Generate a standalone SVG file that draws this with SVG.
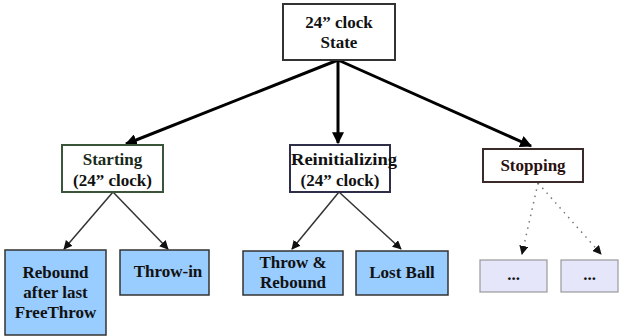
<svg xmlns="http://www.w3.org/2000/svg" width="619" height="336" viewBox="0 0 619 336">
<style>
.t{font-family:"Liberation Serif","Times New Roman",serif;font-weight:bold;font-size:17px;text-anchor:middle;fill:#111}
.wb{fill:#fff;stroke-width:2}
.bb{fill:#99ccff;stroke:#333;stroke-width:1.5}
.lb{fill:#e6e6fa;stroke:#999;stroke-width:1.2}
.thick{stroke:#000;stroke-width:3;fill:none}
.thin{stroke:#333;stroke-width:1.5;fill:none}
.dot{stroke:#777;stroke-width:1.5;fill:none;stroke-dasharray:1.5 5}
</style>
<defs>
<marker id="ah" viewBox="0 0 10 10" refX="9" refY="5" markerWidth="4" markerHeight="4" orient="auto" markerUnits="strokeWidth"><path d="M0,0 L10,5 L0,10 z" fill="#000"/></marker>
<marker id="as" viewBox="0 0 10 10" refX="9" refY="5" markerWidth="6" markerHeight="6" orient="auto" markerUnits="strokeWidth"><path d="M0,0 L10,5 L0,10 z" fill="#111"/></marker>
<marker id="ad" viewBox="0 0 10 10" refX="9" refY="5" markerWidth="6" markerHeight="6" orient="auto" markerUnits="strokeWidth"><path d="M0,0 L10,5 L0,10 z" fill="#111"/></marker>
</defs>
<g id="connectors">
<line class="thick" x1="338" y1="60" x2="126" y2="144" marker-end="url(#ah)"/>
<line class="thick" x1="338" y1="60" x2="338" y2="143" marker-end="url(#ah)"/>
<line class="thick" x1="338" y1="60" x2="531" y2="146" marker-end="url(#ah)"/>
<line class="thin" x1="113" y1="192" x2="64" y2="249" marker-end="url(#as)"/>
<line class="thin" x1="113" y1="192" x2="168" y2="249" marker-end="url(#as)"/>
<line class="thin" x1="339" y1="192" x2="292" y2="249" marker-end="url(#as)"/>
<line class="thin" x1="339" y1="192" x2="401" y2="249" marker-end="url(#as)"/>
<line class="dot" x1="538" y1="183" x2="522" y2="254" marker-end="url(#ad)"/>
<line class="dot" x1="538" y1="183" x2="601" y2="254" marker-end="url(#ad)"/>
</g>
<g id="state">
<rect class="wb" x="283" y="4" width="112" height="56" stroke="#333"/>
<text class="t" x="339" y="28">24” clock</text>
<text class="t" x="339" y="48">State</text>
</g>
<g id="starting">
<rect class="wb" x="62" y="145" width="101" height="47" stroke="#3a553a"/>
<text class="t" x="112.5" y="165" style="fill:#1a2a1a">Starting</text>
<text class="t" x="112.5" y="186">(24” clock)</text>
</g>
<g id="reinit">
<rect class="wb" x="290" y="145" width="100" height="47" stroke="#2e2e48"/>
<text class="t" x="344" y="165" textLength="106" lengthAdjust="spacingAndGlyphs">Reinitializing</text>
<text class="t" x="340" y="186">(24” clock)</text>
</g>
<g id="stopping">
<rect class="wb" x="483" y="149" width="100" height="33" stroke="#3a2a2a"/>
<text class="t" x="533" y="171" style="fill:#2a1010">Stopping</text>
</g>
<g id="rebound">
<rect class="bb" x="5" y="250" width="101" height="85"/>
<text class="t" x="55.5" y="278">Rebound</text>
<text class="t" x="55.5" y="298">after last</text>
<text class="t" x="55.5" y="318">FreeThrow</text>
</g>
<g id="throwin">
<rect class="bb" x="120" y="250" width="89" height="45"/>
<text class="t" x="168" y="277">Throw-in</text>
</g>
<g id="throwrebound">
<rect class="bb" x="243" y="251" width="100" height="44"/>
<text class="t" x="293" y="268">Throw &amp;</text>
<text class="t" x="293" y="288">Rebound</text>
</g>
<g id="lostball">
<rect class="bb" x="356" y="251" width="92" height="44"/>
<text class="t" x="402" y="278">Lost Ball</text>
</g>
<g id="dots1">
<rect class="lb" x="480" y="260" width="67" height="32"/>
<text class="t" x="513.5" y="280">...</text>
</g>
<g id="dots2">
<rect class="lb" x="561" y="260" width="57" height="32"/>
<text class="t" x="589.5" y="280">...</text>
</g>
</svg>
